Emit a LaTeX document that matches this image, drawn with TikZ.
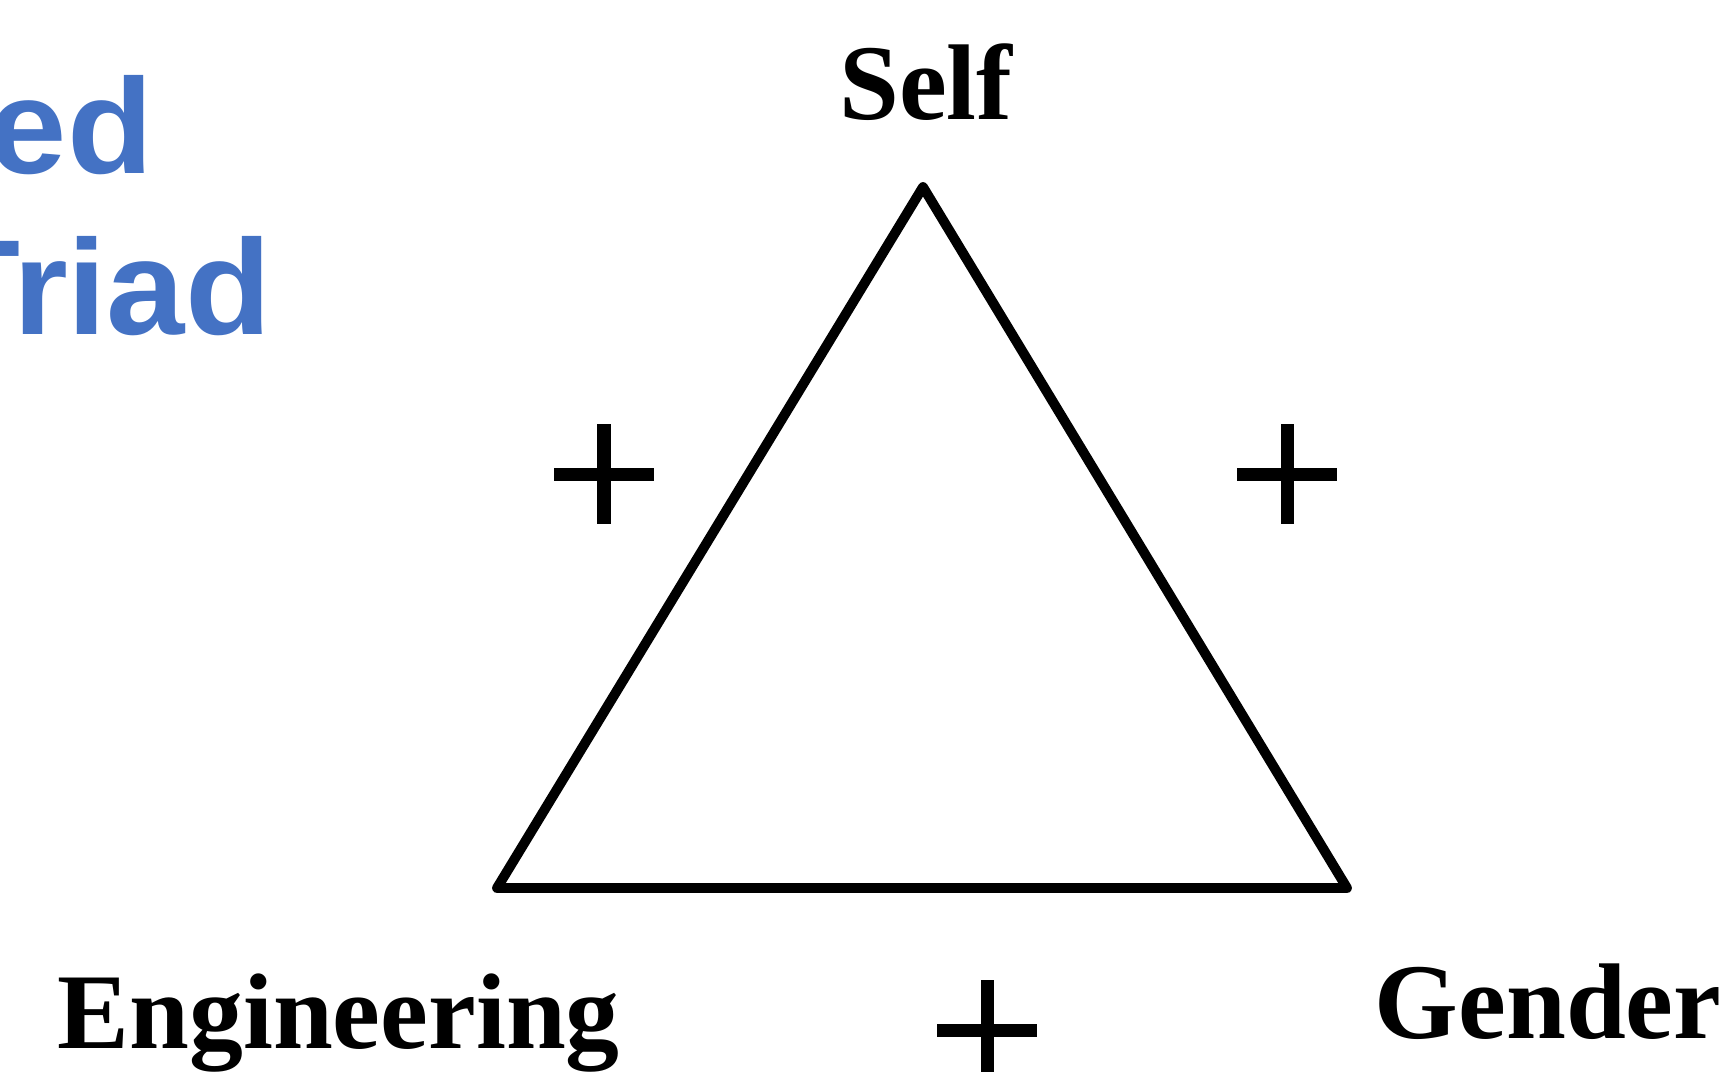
\documentclass[tikz,border=0pt]{standalone}
\usepackage{fontspec}
\setmainfont{Liberation Serif}
\newfontfamily\headfont{Liberation Sans}
\usepackage{xcolor}
\usepackage{tikz}
\usetikzlibrary{positioning}
\definecolor{headblue}{HTML}{4472C4}
\tikzset{
  corner/.style={font=\fontsize{30.6}{32}\selectfont\bfseries,anchor=base,inner sep=0pt},
  head/.style={font=\fontsize{38.5}{40}\selectfont\headfont\bfseries,text=headblue,anchor=base east,inner sep=0pt,xscale=1.04},
}
\begin{document}
\begin{tikzpicture}[x=0.01cm,y=-0.01cm]
\useasboundingbox (0,0) rectangle (1723,1072);
\def\signplus#1#2{\draw[line width=3.7pt] (#1-50,#2) -- (#1+50,#2); \draw[line width=3.7pt] (#1,#2-50) -- (#1,#2+50);}
% title, cut off at the left
\node[head] (hd1) at (154,173) {ed};
\node[head] (hd2) at (272,334) {Triad};
% the triad
\coordinate (top) at (923,187);
\coordinate (bl) at (497,888);
\coordinate (br) at (1347,888);
\draw[line width=2.8pt,line join=round,line cap=round] (top) -- (bl) -- (br) -- cycle;
\node[corner] (self) at (926,119) {Self};
\node[corner,anchor=base west] (eng) at (57,1048) {Engineering};
\node[corner,anchor=base west] (gender) at (1374,1038) {Gender};
% signs
\signplus{604}{474}
\signplus{1287}{474}
\signplus{987}{1030}
\end{tikzpicture}
\end{document}
